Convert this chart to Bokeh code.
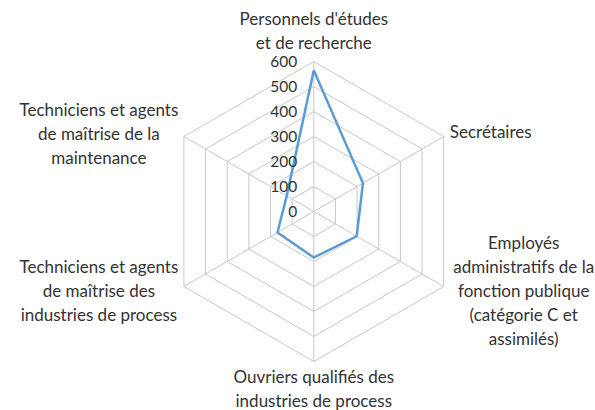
import numpy as np
from bokeh.plotting import figure
from bokeh.models import Range1d
from bokeh.core.properties import value
from bokeh.embed import file_html
from bokeh.resources import INLINE

# ---- data ----
categories = [
    "Personnels d'études\net de recherche",
    "Secrétaires",
    "Employés\nadministratifs de la\nfonction publique\n(catégorie C et\nassimilés)",
    "Ouvriers qualifiés des\nindustries de process",
    "Techniciens et agents\nde maîtrise des\nindustries de process",
    "Techniciens et agents\nde maîtrise de la\nmaintenance",
]
values = [565, 227, 198, 184, 168, 125]
ticks = [0, 100, 200, 300, 400, 500, 600]
rmax = 600

# ---- layout constants (pixels) ----
PX = 4.0  # data units per pixel
cx_px, cy_px = 313.3, 211.0
W, H = 595, 410
# label offsets from each outer vertex (px, y up)
lab_dx = [0, 47, 80, 0, -85, -85]
lab_dy = [31, 5, -4, -27, -4, 3]

n = len(categories)
ang = np.pi / 2 - 2 * np.pi * np.arange(n) / n

p = figure(width=W, height=H, output_backend="svg", toolbar_location=None,
           x_range=Range1d((0 - cx_px) * PX, (W - cx_px) * PX),
           y_range=Range1d((cy_px - H) * PX, cy_px * PX),
           x_axis_location=None, y_axis_location=None,
           min_border=0, min_border_left=0, min_border_right=0,
           min_border_top=0, min_border_bottom=0)
p.grid.visible = False
p.outline_line_color = None
p.background_fill_color = "white"
p.border_fill_color = "white"

grid_col = "#c8c8c8"
# rings
xs, ys = [], []
for t in ticks[1:]:
    xs.append(list(t * np.cos(ang)) + [t * np.cos(ang[0])])
    ys.append(list(t * np.sin(ang)) + [t * np.sin(ang[0])])
p.multi_line(xs, ys, line_color=grid_col, line_width=1)
# spokes
p.multi_line([[0, rmax * np.cos(a)] for a in ang], [[0, rmax * np.sin(a)] for a in ang],
             line_color=grid_col, line_width=1)

# data line
vx = list(np.array(values) * np.cos(ang)) + [values[0] * np.cos(ang[0])]
vy = list(np.array(values) * np.sin(ang)) + [values[0] * np.sin(ang[0])]
p.line(vx, vy, line_color="#5b9bd5", line_width=2.5, line_join="round")

# tick labels
p.text(x=[-16.5 * PX] * len(ticks), y=ticks, text=[str(t) for t in ticks],
       text_font=value("Lato"), text_font_size="15.5px", text_color="#333333",
       text_align="right", text_baseline="middle")

# category labels
lx = [rmax * np.cos(a) + dx * PX for a, dx in zip(ang, lab_dx)]
ly = [rmax * np.sin(a) + dy * PX for a, dy in zip(ang, lab_dy)]
p.text(x=lx, y=ly, text=categories, text_font=value("Lato"), text_font_size="17px",
       text_color="#333333", text_align="center", text_baseline="middle",
       text_line_height=1.15)

open("out.html", "w").write(file_html(p, INLINE))
